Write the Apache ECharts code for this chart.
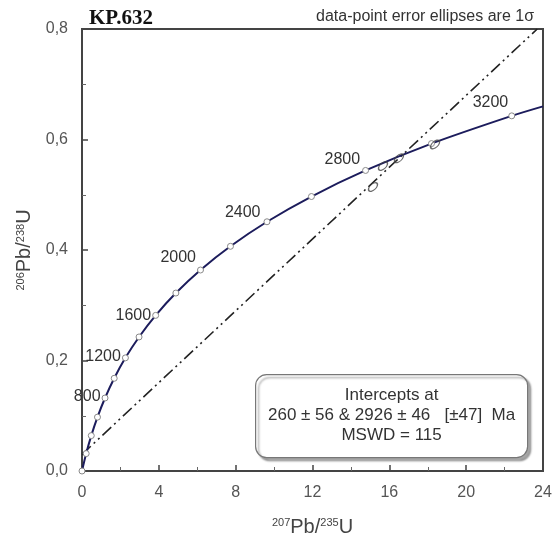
<!DOCTYPE html>
<html>
<head>
<meta charset="utf-8">
<script src="https://cdn.jsdelivr.net/npm/echarts@6/dist/echarts.min.js"></script>
<style>html,body{margin:0;padding:0;background:#fff}#c{width:559px;height:542px}</style>
</head>
<body>
<div id="c"></div>
<script>
// Concordia age markers (Ma) and their positions
var concordiaAges = [0, 200, 400, 600, 800, 1000, 1200, 1400, 1600, 1800, 2000, 2200, 2400, 2600, 2800, 3000, 3200];
var concordiaX = [0, 0.218, 0.483, 0.806, 1.199, 1.677, 2.260, 2.970, 3.835, 4.887, 6.169, 7.729, 9.630, 11.945, 14.763, 18.194, 22.373];
var concordiaY = [0, 0.0315, 0.0640, 0.0975, 0.1321, 0.1678, 0.2048, 0.2426, 0.2817, 0.3221, 0.3638, 0.4067, 0.4511, 0.4968, 0.5440, 0.5926, 0.6428];
var concordiaEnd = [24, 0.660];
var labeledAges = [800, 1200, 1600, 2000, 2400, 2800, 3200];
// Discordia (regression) line end points
var discordiaX = [0, 23.7];
var discordiaY = [0.030, 0.80];
// Data points (error ellipse centres)
var pointsX = [15.15, 15.67, 16.50, 18.38];
var pointsY = [0.514, 0.552, 0.566, 0.591];
// Axis ticks
var xTicks = [0, 4, 8, 12, 16, 20, 24];
var yTicks = ['0,0', '0,2', '0,4', '0,6', '0,8'];

// label lift (style) per labelled age
var labelLift = {800: [0, -1], 1200: [0, -1], 1600: [0, 0], 2000: [0, -12], 2400: [-2, -9], 2800: [-1, -11], 3200: [1, -13]};

var curveData = concordiaAges.map(function (a, i) {
  var item = {value: [concordiaX[i], concordiaY[i]], age: a};
  if (labeledAges.indexOf(a) >= 0) {
    item.label = {show: true, offset: labelLift[a]};
  }
  return item;
});
curveData.push({value: concordiaEnd, symbol: 'none'});

var chart = echarts.init(document.getElementById('c'));
var tickFont = {fontFamily: 'Liberation Sans, Arial, sans-serif', fontSize: 16, color: '#555'};
var boxFont = '17px "Liberation Sans", Arial';

chart.setOption({
  animation: false,
  title: [
    {text: 'KP.632', left: 84, top: 3, textStyle: {fontFamily: 'Liberation Serif, Times New Roman, serif', fontWeight: 'bold', fontSize: 21, color: '#111'}},
    {text: 'data-point error ellipses are 1σ', right: 20, top: 4, textStyle: {fontFamily: 'Liberation Sans, Arial, sans-serif', fontWeight: 'normal', fontSize: 16, color: '#333'}}
  ],
  grid: {left: 82, right: 16, top: 29, bottom: 68, show: true, borderColor: '#444', borderWidth: 2, backgroundColor: 'transparent'},
  xAxis: {
    type: 'value', min: 0, max: 24, interval: 4,
    name: '{s|207}{n|Pb/}{s|235}{n|U}', nameLocation: 'middle', nameGap: 46,
    nameTextStyle: {rich: {s: {fontSize: 11, color: '#444', padding: [0, 0, 8, 0], fontFamily: 'Liberation Sans, Arial'}, n: {fontSize: 20, color: '#444', fontFamily: 'Liberation Sans, Arial'}}},
    axisLine: {show: true, lineStyle: {color: '#444', width: 2}},
    axisTick: {show: true, inside: true, length: 6, lineStyle: {color: '#444', width: 1.5}},
    minorTick: {show: true, splitNumber: 2, length: 4, lineStyle: {color: '#666', width: 1}},
    axisLabel: Object.assign({margin: 14, formatter: function (v) { return xTicks.indexOf(v) >= 0 ? String(v) : ''; }}, tickFont),
    splitLine: {show: false}
  },
  yAxis: {
    type: 'value', min: 0, max: 0.8, interval: 0.2,
    name: '{s|206}{n|Pb/}{s|238}{n|U}', nameLocation: 'middle', nameGap: 46, nameRotate: 90,
    nameTextStyle: {rich: {s: {fontSize: 11, color: '#444', padding: [0, 0, 8, 0], fontFamily: 'Liberation Sans, Arial'}, n: {fontSize: 20, color: '#444', fontFamily: 'Liberation Sans, Arial'}}},
    axisLine: {show: true, lineStyle: {color: '#444', width: 2}},
    axisTick: {show: true, inside: true, length: 6, lineStyle: {color: '#444', width: 1.5}},
    minorTick: {show: true, splitNumber: 2, length: 4, lineStyle: {color: '#666', width: 1}},
    axisLabel: Object.assign({margin: 14, formatter: function (v) { return yTicks[Math.round(v / 0.2)]; }}, tickFont),
    splitLine: {show: false}
  },
  series: [
    {
      type: 'line',
      data: discordiaX.map(function (x, i) { return [x, discordiaY[i]]; }),
      symbol: 'none', silent: true, clip: true,
      lineStyle: {color: '#222', width: 1.6, type: [12, 4, 2, 4, 2, 4]},
      z: 2
    },
    {
      type: 'line',
      data: curveData,
      smooth: 0.3, clip: true,
      symbol: 'circle', symbolSize: 6, showAllSymbol: true,
      itemStyle: {color: '#fff', borderColor: '#888', borderWidth: 1},
      lineStyle: {color: '#1c1c5c', width: 2},
      label: {show: false, position: 'left', distance: 1, fontFamily: 'Liberation Sans, Arial, sans-serif', fontSize: 16, color: '#333',
        formatter: function (p) { return String(p.data.age); }},
      z: 3
    },
    {
      type: 'scatter',
      data: pointsX.map(function (x, i) { return [x, pointsY[i]]; }),
      symbol: 'circle', symbolSize: [11, 6], symbolRotate: 43,
      itemStyle: {color: 'rgba(255,255,255,0)', borderColor: '#444', borderWidth: 1.3},
      z: 4
    }
  ],
  graphic: [
    {
      type: 'group', left: 255, top: 374,
      children: [
        {type: 'rect', shape: {x: 0, y: 0, width: 272, height: 83, r: 11},
          style: {fill: '#fff', stroke: '#777', lineWidth: 1.2, shadowBlur: 2, shadowOffsetX: 3, shadowOffsetY: 3, shadowColor: 'rgba(0,0,0,0.35)'}},
        {type: 'text', style: {x: 136, y: 21, text: 'Intercepts at', align: 'center', verticalAlign: 'middle', font: boxFont, fill: '#333'}},
        {type: 'text', style: {x: 136, y: 41, text: '260 ± 56 & 2926 ± 46   [±47]  Ma', align: 'center', verticalAlign: 'middle', font: boxFont, fill: '#333'}},
        {type: 'text', style: {x: 136, y: 61, text: 'MSWD = 115', align: 'center', verticalAlign: 'middle', font: boxFont, fill: '#333'}}
      ]
    }
  ]
});
</script>
</body>
</html>
